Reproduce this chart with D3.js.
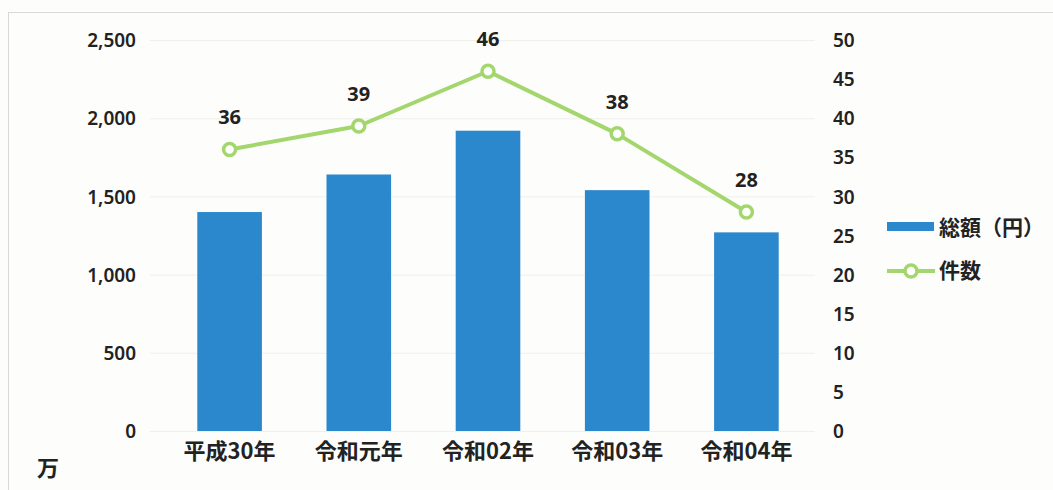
<!DOCTYPE html>
<html>
<head>
<meta charset="utf-8">
<script src="https://cdn.jsdelivr.net/npm/d3@7"></script>
<style>
  html, body { margin: 0; padding: 0; background: #fdfdfc; }
  svg { display: block; }
  text { font-family: "Noto Sans CJK JP", "Noto Sans", sans-serif; fill: #222; }
</style>
</head>
<body>
<svg id="chart" width="1053" height="490"></svg>
<script>
// Yearly totals (万円) and case counts
const categories = ["平成30年", "令和元年", "令和02年", "令和03年", "令和04年"];
const totals = [1400, 1640, 1920, 1540, 1270];
const counts = [36, 39, 46, 38, 28];
const leftTicks = [0, 500, 1000, 1500, 2000, 2500];
const rightTicks = [0, 5, 10, 15, 20, 25, 30, 35, 40, 45, 50];
const seriesNames = ["総額（円）", "件数"];
const unitLabel = "万";

const blue = "#2c88cc";
const green = "#a3d66c";

const svg = d3.select("#chart");

// outer frame
svg.append("rect")
  .attr("x", 8.5).attr("y", 12.5)
  .attr("width", 1100).attr("height", 600)
  .attr("fill", "none").attr("stroke", "#d9d9d6").attr("stroke-width", 1);

const x = d3.scaleBand().domain(categories).range([165, 811])
  .paddingInner(0.5).paddingOuter(0.25);
const yL = d3.scaleLinear().domain([0, 2500]).range([431, 40]);
const yR = d3.scaleLinear().domain([0, 50]).range([431, 40]);

// faint gridlines
svg.append("g").selectAll("line").data(leftTicks).join("line")
  .attr("x1", 150).attr("x2", 815)
  .attr("y1", d => yL(d) + 0.5).attr("y2", d => yL(d) + 0.5)
  .attr("stroke", "#efefec").attr("stroke-width", 1);

// left axis
const axL = svg.append("g").attr("transform", "translate(147,0)")
  .call(d3.axisLeft(yL).tickValues(leftTicks).tickFormat(d3.format(",")).tickSize(0).tickPadding(11));
axL.select(".domain").remove();
axL.selectAll("text").attr("font-size", 19).attr("font-weight", 600)
  .style("font-family", "'Noto Sans', sans-serif").attr("dy", "0.35em");

// right axis
const axR = svg.append("g").attr("transform", "translate(822,0)")
  .call(d3.axisRight(yR).tickValues(rightTicks).tickSize(0).tickPadding(11));
axR.select(".domain").remove();
axR.selectAll("text").attr("font-size", 19).attr("font-weight", 600)
  .style("font-family", "'Noto Sans', sans-serif").attr("dy", "0.35em");

// bars
svg.append("g").selectAll("rect").data(totals).join("rect")
  .attr("x", (d, i) => x(categories[i]))
  .attr("width", x.bandwidth())
  .attr("y", d => yL(d))
  .attr("height", d => yL(0) - yL(d))
  .attr("fill", blue);

// category labels
const axX = svg.append("g").attr("transform", "translate(0,431)")
  .call(d3.axisBottom(x).tickSize(0).tickPadding(20));
axX.select(".domain").remove();
axX.selectAll("text").attr("font-size", 22).attr("font-weight", 700).attr("dy", "0.35em");

// count line
const cx = i => x(categories[i]) + x.bandwidth() / 2;
const line = d3.line().x((d, i) => cx(i)).y(d => yR(d));
svg.append("path").datum(counts)
  .attr("d", line).attr("fill", "none")
  .attr("stroke", green).attr("stroke-width", 4).attr("stroke-linejoin", "round");

svg.append("g").selectAll("circle").data(counts).join("circle")
  .attr("cx", (d, i) => cx(i)).attr("cy", d => yR(d)).attr("r", 6)
  .attr("fill", "#fff").attr("stroke", green).attr("stroke-width", 3.5);

svg.append("g").selectAll("text").data(counts).join("text")
  .attr("x", (d, i) => cx(i)).attr("y", d => yR(d) - 25)
  .attr("text-anchor", "middle").attr("font-size", 20).attr("font-weight", 700)
  .style("font-family", "'Noto Sans', sans-serif")
  .text(d => d);

// unit label
svg.append("text").attr("x", 48).attr("y", 468).attr("dy", "0.35em")
  .attr("text-anchor", "middle").attr("font-size", 22).attr("font-weight", 700)
  .text(unitLabel);

// legend
const lg = svg.append("g");
lg.append("rect").attr("x", 887).attr("y", 222).attr("width", 47).attr("height", 9).attr("fill", blue);
lg.append("text").attr("x", 939).attr("y", 228).attr("dy", "0.35em")
  .attr("font-size", 21).attr("font-weight", 700).text(seriesNames[0]);
lg.append("line").attr("x1", 887).attr("x2", 935).attr("y1", 271).attr("y2", 271)
  .attr("stroke", green).attr("stroke-width", 4);
lg.append("circle").attr("cx", 911).attr("cy", 271).attr("r", 6)
  .attr("fill", "#fff").attr("stroke", green).attr("stroke-width", 3.5);
lg.append("text").attr("x", 939).attr("y", 271).attr("dy", "0.35em")
  .attr("font-size", 21).attr("font-weight", 700).text(seriesNames[1]);
</script>
</body>
</html>
